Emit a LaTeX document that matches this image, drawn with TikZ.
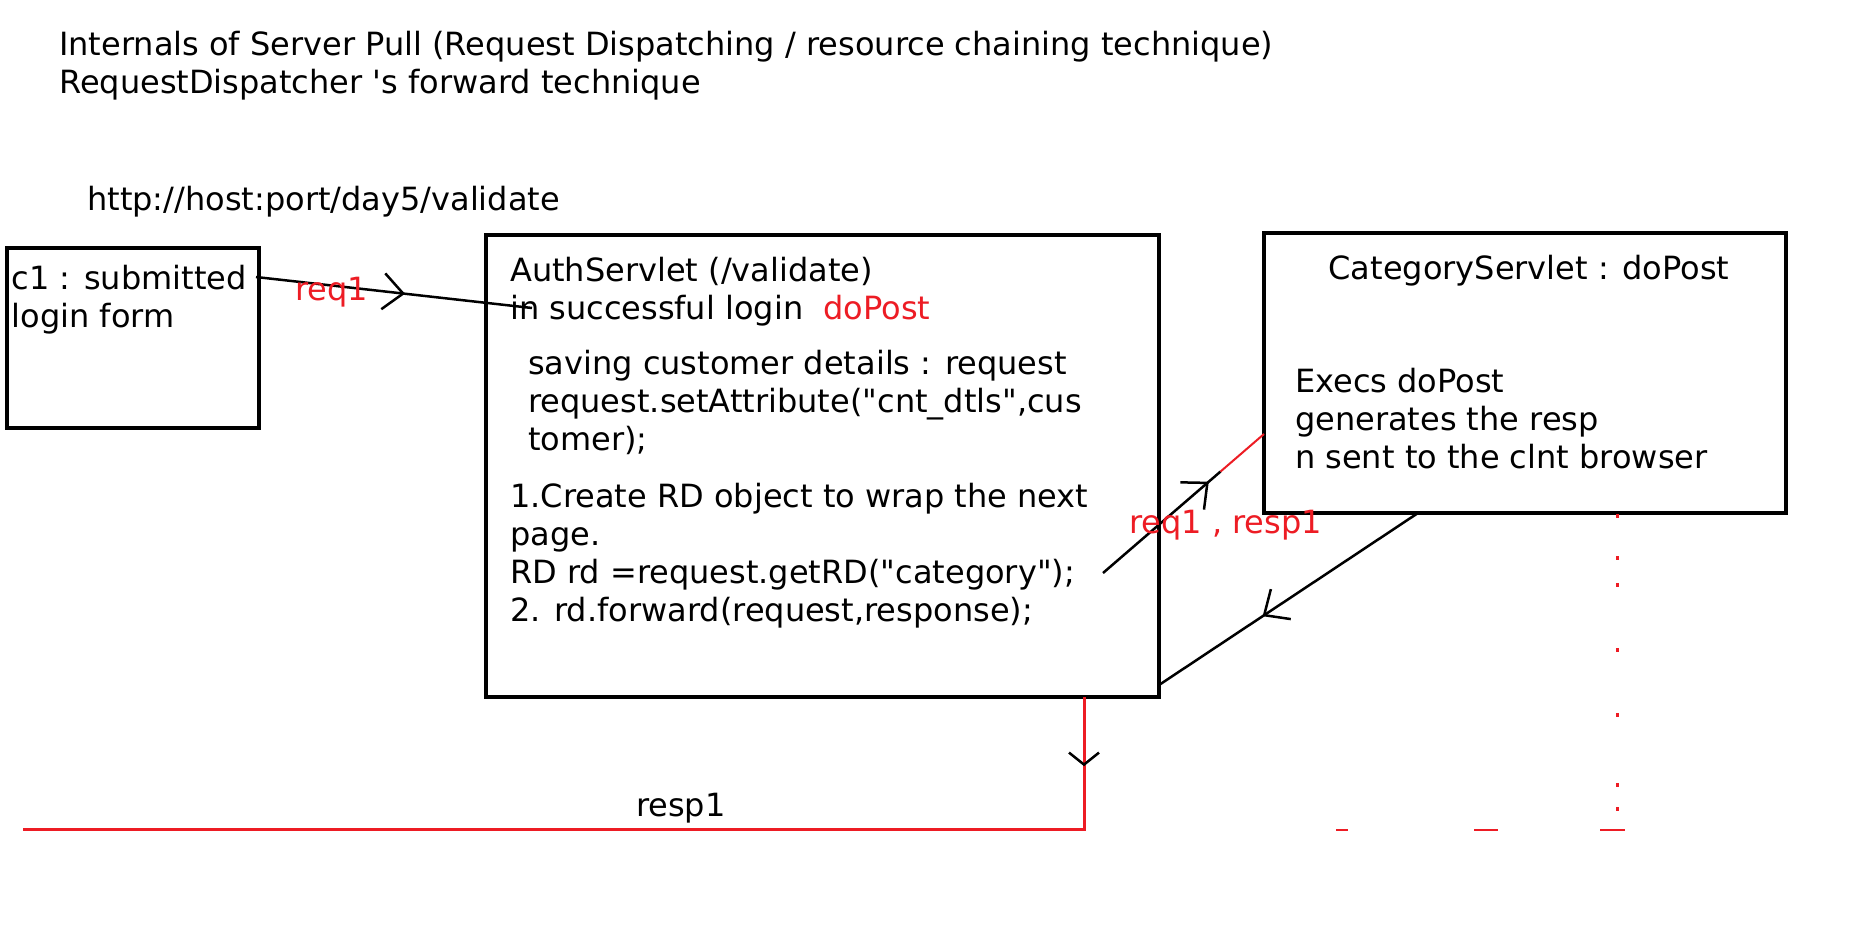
\documentclass[tikz,border=0pt]{standalone}
\usepackage{fontspec}
\setmainfont{DejaVu Sans}
\usetikzlibrary{arrows.meta, calc, decorations.markings}
\definecolor{paintred}{HTML}{ED1C24}

\tikzset{
  midarrow/.style={postaction={decorate}, decoration={markings,
    mark=at position #1 with {\arrow{Straight Barb[length=20pt,width=36pt,line width=2.5pt]}}}},
  midbarb/.style={postaction={decorate}, decoration={markings,
    mark=at position #1 with {\arrow{Straight Barb[black,length=12pt,width=30pt,line width=2.5pt]}}}}
}

\begin{document}
\begin{tikzpicture}[x=1pt, y=-1pt, font=\fontsize{32}{38}\selectfont]
    \tikzstyle{box} = [rectangle, draw=black, line width=3.5pt, inner sep=0pt, outer sep=0pt, anchor=north west]
    \tikzstyle{txt} = [inner sep=0pt, align=left, anchor=base west]
    \tikzstyle{lbl} = [inner sep=0pt, text=paintred, anchor=base]
    \tikzstyle{conn} = [line width=2.5pt]

    \fill[white] (0,0) rectangle (1864,948);
    \useasboundingbox (0,0) rectangle (1864,948);

    % base of a multi-line node sits on its last line
    \node (title) [txt] at (59,93) {Internals of Server Pull (Request Dispatching / resource chaining technique)\\
      RequestDispatcher \textquotesingle s forward technique};
    \node (url) [txt] at (87,210) {http://host:port/day5/validate};

    % boxes
    \node (client) [box, minimum width=252pt, minimum height=180pt] at (7,248) {};
    \node (auth) [box, minimum width=673pt, minimum height=462pt] at (486,235) {};
    \node (category) [box, minimum width=522pt, minimum height=280pt] at (1264,233) {};

    \node (clienttext) [txt] at ($(client.north west)+(4.5,79)$) {c1 : submitted\\login form};
    \node (authhead) [txt] at ($(auth.north west)+(24,84)$) {AuthServlet (/validate)\\
      in successful login\ \ \textcolor{paintred}{doPost}};
    \node (authsave) [txt] at ($(auth.north west)+(42,215)$) {saving customer details : request\\
      request.setAttribute(\textquotedbl cnt\_dtls\textquotedbl,cus\\tomer);};
    \node (authrd) [txt] at ($(auth.north west)+(24,386)$) {1.Create RD object to wrap the next\\
      page.\\RD rd =request.getRD(\textquotedbl category\textquotedbl);\\2. rd.forward(request,response);};
    \node (cathead) [inner sep=0pt, anchor=base] at ($(category.north)+(4,46)$) {CategoryServlet : doPost};
    \node (cattext) [txt] at ($(category.north west)+(31,235)$) {Execs doPost\\generates the resp\\n sent to the clnt browser};

    % request from the client
    \coordinate (reqout) at ($(client.north east)+(-3,29)$);
    \coordinate (reqin) at ($(auth.north west)+(46,73)$);
    \draw [conn, midarrow=0.54] (reqout) -- (reqin) node[lbl, pos=0.275, yshift=-15pt] {req1};

    % forward to the next servlet
    \coordinate (fwdout) at ($(auth.north east)+(-56,338)$);
    \coordinate (fwdin) at ($(category.south west)+(0,-79)$);
    \coordinate (fwdred) at ($(fwdout)!0.73!(fwdin)$);
    \draw [conn, midarrow=0.9] (fwdout) -- (fwdred);
    \draw [paintred, line width=2pt] (fwdred) -- (fwdin);
    \node (fwdlabel) [lbl, anchor=base west] at ($(category.south west)+(-135,20)$) {req1 , resp1};

    % response back
    \coordinate (backout) at ($(category.south west)+(154,0)$);
    \coordinate (backin) at ($(auth.south east)+(0,-12)$);
    \draw [conn, midarrow=0.6] (backout) -- (backin);

    \coordinate (respdown) at ($(auth.south east)+(-75,0)$);
    \coordinate (respend) at (23,829);
    \draw [paintred, line width=3pt, midbarb=0.058] (respdown) |- (respend)
      node[pos=0.69, anchor=base, yshift=13pt, text=black, inner sep=0pt] {resp1};

    % leftover red marks
    \foreach \y in {514,556,583,648,713,783,807}
      \fill[paintred] (1616,\y) rectangle ++(2.5,4);
    \foreach \a/\b in {1336/1348,1474/1498,1600/1625}
      \draw[paintred, line width=1.5pt] (\a,830) -- (\b,830);
\end{tikzpicture}
\end{document}
